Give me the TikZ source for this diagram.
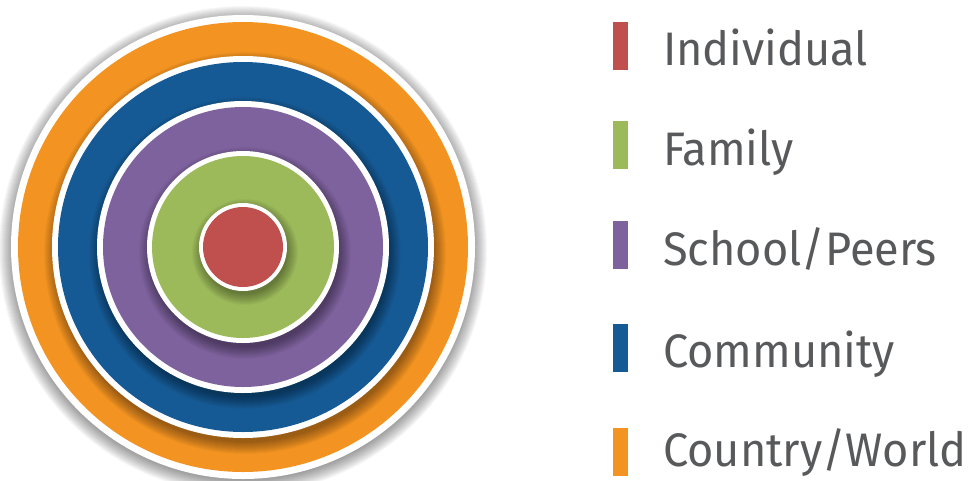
\documentclass[tikz,border=0pt]{standalone}
\usepackage{fontspec}
\setmainfont{Fira Sans}[FakeStretch=0.96]

\definecolor{indivred}{RGB}{192,80,77}
\definecolor{familygreen}{RGB}{156,186,90}
\definecolor{schoolpurple}{RGB}{126,98,158}
\definecolor{commblue}{RGB}{22,90,149}
\definecolor{worldorange}{RGB}{243,148,34}
\definecolor{labelgrey}{RGB}{88,89,91}

\tikzset{
  legbar/.style={fill=#1, draw=none, minimum width=15pt, minimum height=48pt, inner sep=0pt},
  legtext/.style={text=labelgrey, font=\fontsize{47}{52}\selectfont, anchor=base west, inner sep=0pt},
}

%% soft shadow: radius, spread, x offset, y offset
\newcommand{\softshade}[4]{%
  \foreach \k in {0,...,#2}
    \fill[black, opacity=0.032] (243+#3,247+#4) circle ({#1+\k});
}

\begin{document}
\begin{tikzpicture}[x=1pt,y=-1pt]
  \useasboundingbox (0,0) rectangle (972,480);

  %% outer disc
  \softshade{229}{15}{0}{3}
  \fill[white] (243,247) circle (232);
  \fill[worldorange] (243,247) circle (225);

  %% community
  \softshade{189}{12}{2}{6}
  \fill[white] (243,247) circle (191);
  \fill[commblue] (243,247) circle (185);

  %% school / peers
  \softshade{144}{12}{2}{6}
  \fill[white] (243,247) circle (146);
  \fill[schoolpurple] (243,247) circle (140);

  %% family
  \softshade{94}{12}{2}{6}
  \fill[white] (243,247) circle (96);
  \fill[familygreen] (243,247) circle (91);

  %% individual
  \softshade{42}{11}{2}{5}
  \fill[white] (243,247) circle (44);
  \fill[indivred] (243,247) circle (40);

  %% legend
  \node[legbar=indivred]     (bar1) at (620.5,45.5)  {};
  \node[legbar=familygreen]  (bar2) at (620.5,145)   {};
  \node[legbar=schoolpurple] (bar3) at (620.5,244.5) {};
  \node[legbar=commblue]     (bar4) at (620.5,348)   {};
  \node[legbar=worldorange]  (bar5) at (620.5,452)   {};

  \node[legtext] (lab1) at (663,65)  {Individual};
  \node[legtext] (lab2) at (663,165) {Family};
  \node[legtext] (lab3) at (663,265) {School/Peers};
  \node[legtext] (lab4) at (663,367) {Community};
  \node[legtext] (lab5) at (663,466) {Country/World};

\end{tikzpicture}
\end{document}
